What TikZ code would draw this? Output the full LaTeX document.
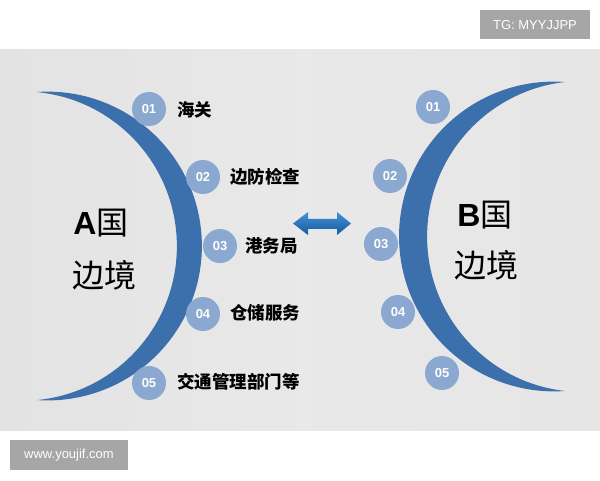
\documentclass[tikz,border=0pt]{standalone}
\usepackage{fontspec}
\setmainfont{Liberation Sans}
\newfontfamily\cjk{Noto Sans CJK SC}
\definecolor{bandgray}{RGB}{227,227,227}
\definecolor{crescentblue}{RGB}{60,112,172}
\definecolor{numblue}{RGB}{138,168,208}
\definecolor{tagray}{RGB}{166,166,166}
\definecolor{arrowtop}{RGB}{70,145,215}
\definecolor{arrowbot}{RGB}{20,90,160}
\tikzset{
  crescent/.style={fill=crescentblue},
  numdot/.style={circle, fill=numblue, minimum size=34pt, inner sep=0pt, text=white, font=\fontsize{13}{13}\selectfont\bfseries},
  itemlabel/.style={anchor=west, inner sep=0pt, font=\fontsize{17.5}{20}\selectfont\cjk\bfseries},
  bigtext/.style={inner sep=0pt, font=\fontsize{32}{36}\selectfont},
  tagbox/.style={fill=tagray, text=white, inner sep=0pt, font=\fontsize{13}{14}\selectfont}
}
\begin{document}
\begin{tikzpicture}[x=1pt,y=1pt]
\useasboundingbox (0,0) rectangle (600,480);
\fill[white] (0,0) rectangle (600,480);
% band
\shade[left color=bandgray, right color=bandgray!90!white, middle color=bandgray!80!white] (0,50) rectangle (600,430);
% tags
\node[tagbox, minimum width=110pt, minimum height=29pt] (tg) at (535,455) {TG: MYYJJPP};
\node[tagbox, minimum width=118pt, minimum height=30pt] (www) at (69,25) {www.youjif.com};
% left crescent
\fill[crescent] (37,388) arc[start angle=93.9, end angle=-93.9, radius=154.4]
  arc[start angle=-84.5, end angle=84.5, radius=154.7] -- cycle;
% right crescent
\fill[crescent] (565,398) arc[start angle=85.9, end angle=274.1, radius=154.9]
  arc[start angle=263.5, end angle=96.5, radius=155.5] -- cycle;
% arrow
\shade[top color=arrowtop, bottom color=arrowbot] (293,256.5) -- (308,268) -- (308,261) -- (337,261) -- (337,268) -- (351,256.5) -- (337,245) -- (337,251) -- (308,251) -- (308,245) -- cycle;
% left circles
\node[numdot] (l1) at (149,371) {01};
\node[numdot] (l2) at (203,303) {02};
\node[numdot] (l3) at (220,234) {03};
\node[numdot] (l4) at (203,166) {04};
\node[numdot] (l5) at (149,97) {05};
% left labels
\node[itemlabel] (t1) at (177,370) {海关};
\node[itemlabel] (t2) at (230,303) {边防检查};
\node[itemlabel] (t3) at (245,234) {港务局};
\node[itemlabel] (t4) at (230,167) {仓储服务};
\node[itemlabel] (t5) at (177,98) {交通管理部门等};
% right circles
\node[numdot] (r1) at (433,373) {01};
\node[numdot] (r2) at (390,304) {02};
\node[numdot] (r3) at (381,236) {03};
\node[numdot] (r4) at (398,168) {04};
\node[numdot] (r5) at (442,107) {05};
% big texts
\node[bigtext] (a1) at (101,257) {\bfseries A{\cjk\mdseries 国}};
\node[bigtext] (a2) at (104,205) {\cjk 边境};
\node[bigtext] (b1) at (485,265) {\bfseries B{\cjk\mdseries 国}};
\node[bigtext] (b2) at (486,215) {\cjk 边境};
\end{tikzpicture}
\end{document}
